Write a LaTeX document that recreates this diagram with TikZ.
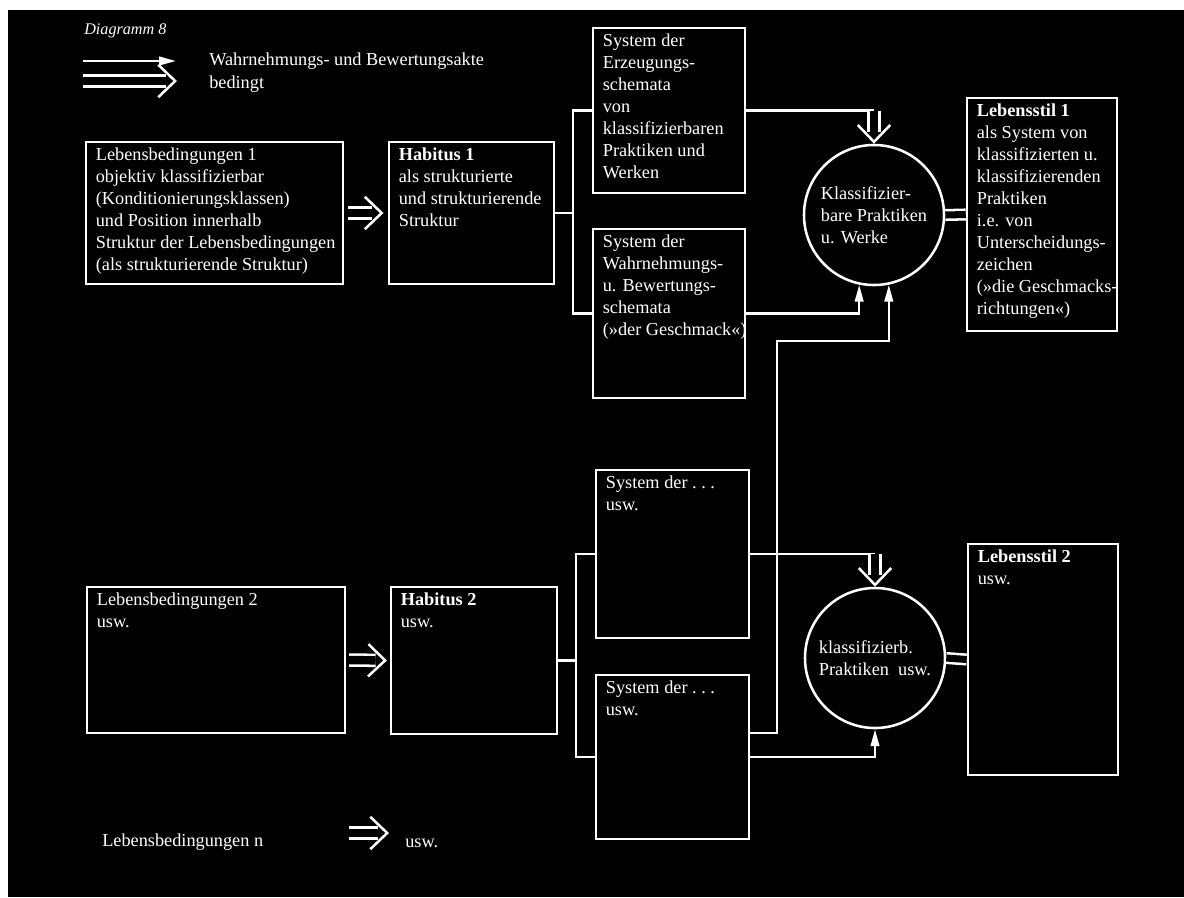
\documentclass[tikz,border=0pt]{standalone}
\usepackage{fontspec}
\setmainfont{Liberation Serif}
\usetikzlibrary{arrows.meta,calc,fit}
\newcommand\tsz{\fontsize{13}{15.65}\selectfont}

\begin{document}
\begin{tikzpicture}[x=0.025cm, y=-0.025cm, color=white, line width=1.8pt,
	box/.style={draw, inner sep=0pt},
	txt/.style={anchor=north west, align=left, inner xsep=7pt, inner ysep=4pt, font=\tsz},
	lbl/.style={anchor=base west, inner sep=0pt, font=\tsz},
	kreis/.style={draw, circle, minimum size=3.5cm, inner sep=0pt, align=left, font=\tsz},
	akt/.style={-{Triangle[length=12pt, width=6pt]}},
	dbl/.style={double=black, double distance=6pt, shorten >=8pt},
	spitze/.style={draw=black, line width=1pt, -{Straight Barb[length=12pt, width=23pt, line width=1.8pt, color=white]}},
	gleich/.style={double=black, double distance=5pt}]
	
	\useasboundingbox (0,0) rectangle (1184,897);
	\fill[white] (0,0) rectangle (1184,897);
	\fill[black] (8,10) rectangle (1184,897);
	
	\node[lbl, font=\fontsize{11.5}{14}\selectfont\itshape] (titel) at (83,34) {Diagramm 8};
	\coordinate (a1) at (83,61);
	\coordinate (a2) at (176,61);
	\coordinate (b1) at (83,81);
	\coordinate (b2) at (177,81);
	\draw[akt] (a1) -- (a2);
	\draw[dbl] (b1) -- (b2);
	\draw[spitze] (b1) -- (b2);
	\node[lbl] (lga) at (208,65) {Wahrnehmungs- und Bewertungsakte};
	\node[lbl] (lgb) at (208,88) {bedingt};
	
	\node[box, fit={(86,142) (343,284)}] (l1) {};
	\node[txt] at (l1.north west) {Lebensbedingungen 1\\objektiv klassifizierbar\\(Konditionierungsklassen)\\und Position innerhalb\\Struktur der Lebensbedingungen\\(als strukturierende Struktur)};
	\node[box, fit={(389,142) (554,284)}] (h1) {};
	\node[txt] at (h1.north west) {\textbf{Habitus 1}\\als strukturierte\\und strukturierende\\Struktur};
	\node[box, fit={(593,28) (745,193)}] (s1) {};
	\node[txt] at (s1.north west) {System der\\Erzeugungs-\\schemata\\von\\klassifizierbaren\\Praktiken und\\Werken};
	\node[box, fit={(593,229) (745,398)}] (s2) {};
	\node[txt] at (s2.north west) {System der\\Wahrnehmungs-\\u. Bewertungs-\\schemata\\(»der Geschmack«)};
	\node[kreis] (c1) at (874,215) {Klassifizier-\\bare Praktiken\\u. Werke};
	\node[box, fit={(967,98) (1117,331)}] (ls1) {};
	\node[txt] at (ls1.north west) {\textbf{Lebensstil 1}\\als System von\\klassifizierten u.\\klassifizierenden\\Praktiken\\i.e. von\\Unterscheidungs-\\zeichen\\(»die Geschmacks-\\richtungen«)};
	
	\node[box, fit={(87,587) (345,733)}] (l2) {};
	\node[txt] at (l2.north west) {Lebensbedingungen 2\\usw.};
	\node[box, fit={(391,587) (557,734)}] (h2) {};
	\node[txt] at (h2.north west) {\textbf{Habitus 2}\\usw.};
	\node[box, fit={(596,470) (749,638)}] (s3) {};
	\node[txt] at (s3.north west) {System der .~.~.\\usw.};
	\node[box, fit={(596,675) (749,839)}] (s4) {};
	\node[txt] at (s4.north west) {System der .~.~.\\usw.};
	\node[kreis] (c2) at (875,658) {klassifizierb.\\Praktiken~~usw.};
	\node[box, fit={(968,544) (1118,775)}] (ls2) {};
	\node[txt] at (ls2.north west) {\textbf{Lebensstil 2}\\usw.};
	
	\node[lbl] (ln) at (101,846) {Lebensbedingungen n};
	\node[lbl] (lnu) at (404,847) {usw.};
	\coordinate (n1) at (349,833);
	\coordinate (n2) at (389,833);
	\draw[dbl] (n1) -- (n2);
	\draw[spitze] (n1) -- (n2);
	
	\draw[dbl, shorten <=3pt, shorten >=11pt] (l1.east) -- (h1.west);
	\draw[spitze, shorten <=3pt, shorten >=3pt] (l1.east) -- (h1.west);
	\draw[dbl, shorten <=2pt, shorten >=10pt] (l2.east) -- (h2.west);
	\draw[spitze, shorten <=2pt, shorten >=2pt] (l2.east) -- (h2.west);
	
	\coordinate (k1) at (573,0);
	\coordinate (k3) at (576,0);
	\coordinate (k2) at (777,341);
	\draw (h1.east) -- (h1.east -| k1);
	\draw (s1.west) -- (s1.west -| k1) -- (s2.west -| k1) -- (s2.west);
	\draw (h2.east) -- (h2.east -| k3);
	\draw (s3.west) -- (s3.west -| k3) -- (s4.west -| k3) -- (s4.west);
	
	\draw (s1.east) -- (s1.east -| c1.north);
	\draw[dbl] (s1.east -| c1.north) -- (c1.north);
	\draw[spitze] (s1.east -| c1.north) -- (c1.north);
	\draw[akt] (s2.east) -| (c1.-102);
	\draw[akt] ($(s4.east)+(0,-24)$) -| (k2) -| (c1.-78);
	\draw (s3.east) -- (s3.east -| c2.north);
	\draw[dbl] (s3.east -| c2.north) -- (c2.north);
	\draw[spitze] (s3.east -| c2.north) -- (c2.north);
	\draw[akt] (s4.east) -| (c2.south);
	
	\draw[gleich] (c1.east) -- (ls1.west);
	\draw[gleich] (c2.east) -- (ls2.west);
\end{tikzpicture}
\end{document}
